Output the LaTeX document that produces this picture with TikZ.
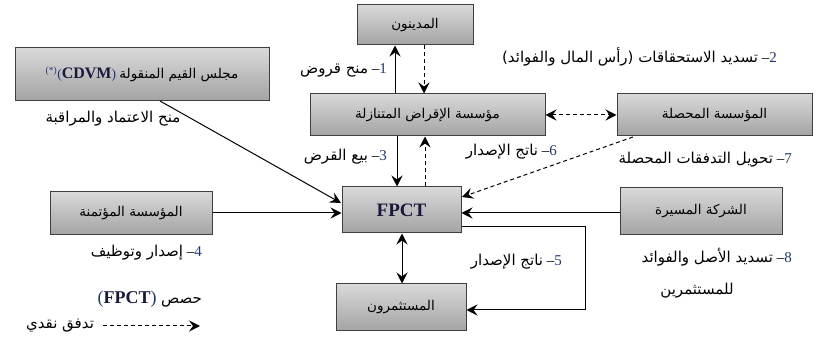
\documentclass[tikz,border=0pt]{standalone}
\usepackage{fontspec}
\setmainfont{Liberation Serif}
\newfontfamily\arfont[Script=Arabic]{DejaVu Sans}
\TeXXeTstate=1
\usetikzlibrary{arrows.meta}
\definecolor{numblue}{RGB}{31,56,110}
\definecolor{fpctc}{RGB}{25,25,60}
\newcommand{\AR}[1]{{\arfont\beginR #1\endR}}
\newcommand{\NUM}[1]{\textcolor{numblue}{#1}}
\begin{document}
\begin{tikzpicture}[x=1pt,y=-1pt,
  box/.style={draw=black!75, line width=1pt, top color=gray!30, middle color=gray!5, bottom color=gray!72, inner sep=0pt, font=\fontsize{13.5}{16}\selectfont},
  arr/.style={-{Stealth[length=11pt,width=11pt,inset=4pt]}, line width=1pt},
  darr/.style={{Stealth[length=11pt,width=11pt,inset=4pt]}-{Stealth[length=11pt,width=11pt,inset=4pt]}, line width=1pt},
  dsh/.style={dash pattern=on 4pt off 3pt},
  lab/.style={inner sep=0pt, font=\fontsize{15}{18}\selectfont}
]
\useasboundingbox (0,0) rectangle (836,347);

% boxes
\node[box, minimum width=116pt, minimum height=40pt] (dain) at (415,25) {\AR{المدينون}};
\node[box, minimum width=235pt, minimum height=42pt] (lender) at (427.5,115) {\AR{مؤسسة الإقراض المتنازلة}};
\node[box, minimum width=195pt, minimum height=42pt] (coll) at (714.5,115) {\AR{المؤسسة المحصلة}};
\node[box, minimum width=254pt, minimum height=53pt] (cdvm) at (142,74.5) {\textcolor{numblue}{\textsuperscript{(*)}(}\textbf{\textcolor{fpctc}{\fontsize{16}{18}\selectfont CDVM}}\textcolor{numblue}{)} \AR{مجلس القيم المنقولة}};
\node[box, minimum width=119pt, minimum height=46pt, font=\fontsize{19}{21}\selectfont\bfseries\color{fpctc}] (fpct) at (401.5,210) {FPCT};
\node[box, minimum width=162pt, minimum height=43pt] (trust) at (131,213.5) {\AR{المؤسسة المؤتمنة}};
\node[box, minimum width=162pt, minimum height=47pt] (manag) at (701,211.5) {\AR{الشركة المسيرة}};
\node[box, minimum width=130pt, minimum height=47pt] (inv) at (401,307.5) {\AR{المستثمرون}};

% helper coordinates
\coordinate (x1) at (395,0);
\coordinate (x2) at (424,0);
\coordinate (x3) at (397,0);
\coordinate (x4) at (425,0);
\coordinate (x5) at (402,0);
\coordinate (y5) at (0,227);
\coordinate (c5a) at (585,227);
\coordinate (c5b) at (585,310);
\coordinate (y9) at (0,213);
\coordinate (cd1) at (160,101);
\coordinate (cd2) at (341,203);
\coordinate (co1) at (633,137);
\coordinate (co2) at (462,197);
\coordinate (lg1) at (103,326);
\coordinate (lg2) at (200,326);

% connectors
\draw[arr] (lender.north -| x1) -- (dain.south -| x1);
\draw[arr, dsh] (dain.south -| x2) -- (lender.north -| x2);
\draw[arr] (lender.south -| x3) -- (fpct.north -| x3);
\draw[arr, dsh] (fpct.north -| x4) -- (lender.south -| x4);
\draw[darr, dsh] (lender.east) -- (coll.west);
\draw[arr, dsh] (co1) -- (co2);
\draw[arr] (cd1) -- (cd2);
\draw[arr] (trust.east |- y9) -- (fpct.west |- y9);
\draw[arr] (manag.west |- y9) -- (fpct.east |- y9);
\draw[darr] (fpct.south -| x5) -- (inv.north -| x5);
\draw[arr] (fpct.east |- y5) -- (c5a) -- (c5b) -- (inv.east |- c5b);
\draw[arr, dsh] (lg1) -- (lg2);

% labels
\node[lab, anchor=east] (l1) at (387,70) {\AR{منح قروض} –\NUM{1}};
\node[lab, anchor=east] (l2) at (777,57) {\AR{تسديد الاستحقاقات (رأس المال والفوائد)} –\NUM{2}};
\node[lab] (l0) at (113,119) {\AR{منح الاعتماد والمراقبة}};
\node[lab, anchor=east] (l3) at (387,157) {\AR{بيع القرض} –\NUM{3}};
\node[lab, anchor=east] (l6) at (557,152) {\AR{ناتج الإصدار} –\NUM{6}};
\node[lab, anchor=east] (l7) at (792,160) {\AR{تحويل التدفقات المحصلة} –\NUM{7}};
\node[lab, anchor=east] (l4) at (202,253) {\AR{إصدار وتوظيف} –\NUM{4}};
\node[lab, anchor=east] (l4b) at (202,299) {\fontsize{18}{20}\selectfont\textcolor{numblue}{(}\textbf{\textcolor{fpctc}{FPCT}}\textcolor{numblue}{)} \fontsize{15}{18}\selectfont\AR{حصص}};
\node[lab, anchor=east] (l5) at (562,262) {\AR{ناتج الإصدار} –\NUM{5}};
\node[lab, anchor=east] (l8) at (792,257) {\AR{تسديد الأصل والفوائد} –\NUM{8}};
\node[lab] (l8b) at (697,291) {\AR{للمستثمرين}};
\node[lab] (lg) at (60,326) {\AR{تدفق نقدي}};
\end{tikzpicture}
\end{document}
